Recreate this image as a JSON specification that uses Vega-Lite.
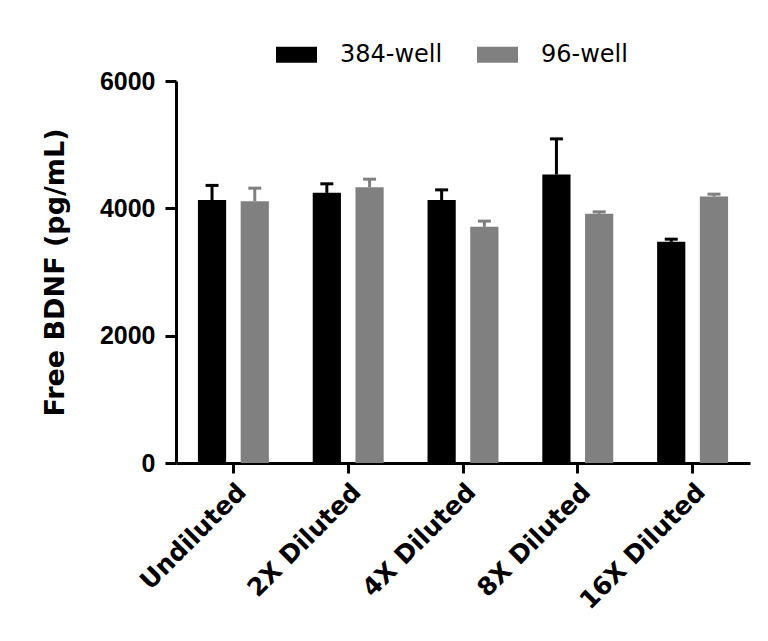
{
  "$schema": "https://vega.github.io/schema/vega-lite/v6.json",
  "autosize": {"type": "none"},
  "padding": {"left": 176, "top": 81, "right": 18, "bottom": 178},
  "width": 574,
  "height": 382,
  "background": "white",
  "config": {"view": {"stroke": null}},
  "data": {
    "values": [
      {"dilution": "Undiluted", "plate": "384-well", "value": 4129, "upper": 4360},
      {"dilution": "Undiluted", "plate": "96-well", "value": 4113, "upper": 4317},
      {"dilution": "2X Diluted", "plate": "384-well", "value": 4243, "upper": 4385},
      {"dilution": "2X Diluted", "plate": "96-well", "value": 4333, "upper": 4458},
      {"dilution": "4X Diluted", "plate": "384-well", "value": 4129, "upper": 4290},
      {"dilution": "4X Diluted", "plate": "96-well", "value": 3710, "upper": 3799},
      {"dilution": "8X Diluted", "plate": "384-well", "value": 4532, "upper": 5091},
      {"dilution": "8X Diluted", "plate": "96-well", "value": 3914, "upper": 3945},
      {"dilution": "16X Diluted", "plate": "384-well", "value": 3474, "upper": 3516},
      {"dilution": "16X Diluted", "plate": "96-well", "value": 4187, "upper": 4223}
    ]
  },
  "encoding": {
    "x": {
      "field": "dilution",
      "type": "nominal",
      "sort": ["Undiluted", "2X Diluted", "4X Diluted", "8X Diluted", "16X Diluted"],
      "scale": {"paddingInner": 0.382, "paddingOuter": 0.191},
      "axis": {
        "title": null,
        "labelAngle": -45,
        "labelFont": "DejaVu Sans",
        "labelFontWeight": "bold",
        "labelFontSize": 25,
        "labelColor": "black",
        "labelPadding": 6,
        "labelLimit": 300,
        "domainColor": "black",
        "domainWidth": 3,
        "tickColor": "black",
        "tickWidth": 3,
        "tickSize": 10
      }
    },
    "xOffset": {
      "field": "plate",
      "type": "nominal",
      "scale": {"paddingInner": 0.34, "paddingOuter": 0}
    },
    "color": {
      "field": "plate",
      "type": "nominal",
      "scale": {"domain": ["384-well", "96-well"], "range": ["#000000", "#808080"]},
      "legend": {
        "title": null,
        "orient": "none",
        "legendX": 100,
        "legendY": -47,
        "direction": "horizontal",
        "symbolType": "M-1,-0.39H1V0.39H-1Z",
        "symbolSize": 1681,
        "symbolStrokeWidth": 0,
        "symbolOpacity": 1,
        "labelFont": "DejaVu Sans",
        "labelFontSize": 24,
        "labelColor": "black",
        "labelOffset": 23,
        "columnPadding": 34
      }
    }
  },
  "layer": [
    {
      "mark": {"type": "rule", "strokeWidth": 3},
      "encoding": {
        "y": {"field": "value", "type": "quantitative"},
        "y2": {"field": "upper"}
      }
    },
    {
      "mark": {"type": "tick", "thickness": 3, "size": 13, "orient": "horizontal", "opacity": 1},
      "encoding": {
        "y": {"field": "upper", "type": "quantitative"}
      }
    },
    {
      "mark": {"type": "bar", "opacity": 1},
      "encoding": {
        "y": {
          "field": "value",
          "type": "quantitative",
          "scale": {"domain": [0, 6000], "nice": false},
          "axis": {
            "title": "Free BDNF (pg/mL)",
            "titleFont": "DejaVu Sans",
            "titleFontWeight": "bold",
            "titleFontSize": 27,
            "titleColor": "black",
            "titlePadding": 30,
            "values": [0, 2000, 4000, 6000],
            "format": "d",
            "grid": false,
            "labelFont": "Liberation Sans",
            "labelFontWeight": "bold",
            "labelFontSize": 25,
            "labelColor": "black",
            "labelPadding": 10,
            "domainColor": "black",
            "domainWidth": 3,
            "tickColor": "black",
            "tickWidth": 3,
            "tickSize": 11
          }
        }
      }
    }
  ]
}
